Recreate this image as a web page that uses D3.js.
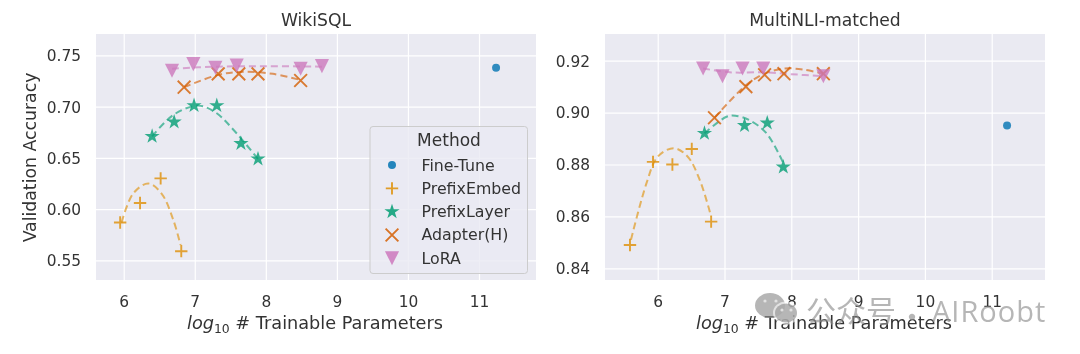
<!DOCTYPE html>
<html><head><meta charset="utf-8">
<script src="https://cdn.jsdelivr.net/npm/d3@7"></script>
<style>html,body{margin:0;padding:0;background:#fff}svg{display:block;filter:blur(.45px)}
text{font-family:"DejaVu Sans";fill:#333}</style></head><body><svg id="c" width="1080" height="354"></svg>
<script>
const methods=["Fine-Tune","PrefixEmbed","PrefixLayer","Adapter(H)","LoRA"];
const xTicks=[6,7,8,9,10,11];
const wikiTicks=[0.55,0.60,0.65,0.70,0.75];
const nliTicks=[0.84,0.86,0.88,0.90,0.92];

const wikiFine=[[11.24,0.738]];
const wikiEmbed=[[5.95,0.587],[6.23,0.606],[6.52,0.630],[6.81,0.559]];
const wikiLayer=[[6.40,0.671],[6.71,0.685],[6.99,0.701],[7.31,0.701],[7.65,0.664],[7.89,0.649]];
const wikiAdapter=[[6.85,0.719],[7.33,0.732],[7.62,0.732],[7.89,0.732],[8.49,0.7255]];
const wikiLora=[[6.68,0.735],[6.98,0.7415],[7.29,0.738],[7.59,0.740],[8.49,0.737],[8.79,0.7395]];
const wikiEmbedFit=[[5.97,0.587],[6.135,0.6154],[6.347,0.625],[6.535,0.615],[6.70,0.589],[6.80,0.565]];
const wikiLayerFit=[[6.40,0.671],[6.70,0.692],[7.05,0.701],[7.30,0.694],[7.55,0.677],[7.89,0.649]];
const wikiAdapterFit=[[6.85,0.719],[7.33,0.731],[7.70,0.734],[8.10,0.732],[8.49,0.726]];
const wikiLoraFit=[[6.68,0.737],[7.30,0.739],[8.00,0.7395],[8.79,0.739]];

const nliFine=[[11.23,0.895]];
const nliEmbed=[[5.585,0.849],[5.93,0.881],[6.22,0.880],[6.51,0.886],[6.80,0.858]];
const nliLayer=[[6.70,0.892],[7.30,0.895],[7.64,0.896],[7.88,0.879]];
const nliAdapter=[[6.85,0.898],[7.32,0.910],[7.60,0.9146],[7.89,0.915],[8.48,0.915]];
const nliLora=[[6.68,0.917],[6.97,0.914],[7.27,0.917],[7.58,0.917],[8.48,0.914]];
const nliEmbedFit=[[5.60,0.851],[5.835,0.873],[6.00,0.883],[6.24,0.8863],[6.45,0.883],[6.63,0.874],[6.80,0.860]];
const nliLayerFit=[[6.70,0.892],[7.03,0.8984],[7.16,0.8988],[7.38,0.897],[7.63,0.892],[7.88,0.8806]];
const nliAdapterFit=[[6.85,0.898],[7.32,0.9105],[7.60,0.915],[7.90,0.917],[8.20,0.9165],[8.48,0.915]];
const nliLoraFit=[[6.68,0.917],[7.10,0.9155],[7.60,0.9155],[8.00,0.9148],[8.48,0.914]];

const colors=["#0173b2","#de8f05","#029e73","#d55e00","#cc78bc"];
const triangleDown={draw(ctx,size){const r=Math.sqrt(size)/2;ctx.moveTo(-r,-r);ctx.lineTo(r,-r);ctx.lineTo(0,r);ctx.closePath();}};
const symbolFor=[
  {t:d3.symbolCircle,s:50,fill:1},
  {t:d3.symbolPlus,s:52,fill:0},
  {t:d3.symbolStar,s:72,fill:1},
  {t:d3.symbolTimes,s:108,fill:0},
  {t:triangleDown,s:200,fill:1}];

const svg=d3.select("#c");
function marker(g,i,x,y,op){
  const m=symbolFor[i];
  g.append("path").attr("d",d3.symbol().type(m.t).size(m.s)())
   .attr("transform",`translate(${x},${y})`)
   .attr("fill",m.fill?colors[i]:"none").attr("stroke",m.fill?"none":colors[i])
   .attr("stroke-width",1.9).attr("opacity",op);
}
function panel(cfg){
  const {box,xDom,xR,yDom,yR,yTicks,yFmt,title,points,fits,xlab}=cfg;
  const x=d3.scaleLinear().domain(xDom).range(xR);
  const y=d3.scaleLinear().domain(yDom).range(yR);
  const g=svg.append("g");
  g.append("rect").attr("x",box[0]).attr("y",box[1]).attr("width",box[2]-box[0]).attr("height",box[3]-box[1]).attr("fill","#eaeaf2");
  const ax=g.append("g").attr("transform",`translate(0,${box[3]})`)
    .call(d3.axisBottom(x).tickValues(xTicks).tickSize(box[1]-box[3]).tickPadding(0).tickFormat(d3.format("d")));
  const ay=g.append("g").attr("transform",`translate(${box[0]},0)`)
    .call(d3.axisLeft(y).tickValues(yTicks).tickSize(box[0]-box[2]).tickPadding(0).tickFormat(d3.format(yFmt)));
  for(const a of [ax,ay]){a.select(".domain").remove();a.selectAll("line").attr("stroke","#fff").attr("stroke-width",1.2);
    a.selectAll("text").attr("font-size",15.4).attr("font-family","DejaVu Sans").attr("fill","#333");}
  ax.selectAll("text").attr("y",0).attr("dy",0).attr("transform","translate(0,27)");
  ay.selectAll("text").attr("x",0).attr("dy","0.35em").attr("transform","translate(-15,0)").attr("text-anchor","end");
  const line=d3.line().x(d=>x(d[0])).y(d=>y(d[1])).curve(d3.curveCatmullRom.alpha(.5));
  fits.forEach((f,i)=>{
    g.append("path").attr("d",line(f)).attr("fill","none").attr("stroke",colors[i+1]).attr("stroke-width",2)
      .attr("stroke-dasharray","7 4").attr("opacity",.62);
  });
  points.forEach((p,i)=>p.forEach(d=>marker(g,i,x(d[0]),y(d[1]),.8)));
  g.append("text").attr("x",(box[0]+box[2])/2).attr("y",26).attr("text-anchor","middle").attr("font-size",17.2).text(title);
  const xl=g.append("text").attr("x",xlab).attr("y",329).attr("font-size",17.7);
  xl.append("tspan").attr("font-style","italic").text("log");
  xl.append("tspan").attr("font-size",12.4).attr("dy",4).text("10");
  xl.append("tspan").attr("dy",-4).text(" # Trainable Parameters");
  return g;
}
panel({box:[96,34,536,280],xDom:[6,11],xR:[123.7,479],yDom:[0.55,0.75],yR:[260.4,55.4],yTicks:wikiTicks,yFmt:".2f",title:"WikiSQL",xlab:187,
  points:[wikiFine,wikiEmbed,wikiLayer,wikiAdapter,wikiLora],fits:[wikiEmbedFit,wikiLayerFit,wikiAdapterFit,wikiLoraFit]});
panel({box:[605,34,1045,280],xDom:[6,11],xR:[657.7,991.7],yDom:[0.84,0.92],yR:[268.3,60.7],yTicks:nliTicks,yFmt:".2f",title:"MultiNLI-matched",xlab:696,
  points:[nliFine,nliEmbed,nliLayer,nliAdapter,nliLora],fits:[nliEmbedFit,nliLayerFit,nliAdapterFit,nliLoraFit]});

svg.append("text").attr("transform","translate(36,157.5) rotate(-90)").attr("text-anchor","middle").attr("font-size",17.3).text("Validation Accuracy");

// legend
const lg=svg.append("g");
lg.append("rect").attr("x",370).attr("y",126.5).attr("width",157.5).attr("height",147).attr("rx",3)
  .attr("fill","#eaeaf2").attr("fill-opacity",.8).attr("stroke","#ccc").attr("stroke-width",1);
lg.append("text").attr("x",449).attr("y",146).attr("text-anchor","middle").attr("font-size",17).text("Method");
const legendY=d3.scalePoint().domain(methods).range([165,258.3]);
methods.forEach((m,i)=>{
  marker(lg,i,392,legendY(m),.85);
  lg.append("text").attr("x",421.5).attr("y",legendY(m)+5.5).attr("font-size",15.8).text(m);
});

// watermark
const wm=svg.append("g");
const wmColor="#8f8f8f";
wm.append("ellipse").attr("cx",770).attr("cy",305.5).attr("rx",15).attr("ry",12.5).attr("fill",wmColor).attr("opacity",.65);
wm.append("ellipse").attr("cx",786).attr("cy",313).attr("rx",13).attr("ry",11.5).attr("fill","#fff").attr("opacity",.6);
wm.append("ellipse").attr("cx",786).attr("cy",313).attr("rx",11).attr("ry",9.5).attr("fill",wmColor).attr("opacity",.65);
[[765,301],[776,301],[782,310],[791,310]].forEach(d=>wm.append("circle").attr("cx",d[0]).attr("cy",d[1]).attr("r",1.6).attr("fill","#eee").attr("opacity",.8));
wm.append("text").attr("x",806).attr("y",322).attr("font-size",30).style("font-family","Noto Sans CJK SC").style("fill",wmColor).attr("opacity",.65).text("公众号");
wm.append("text").attr("x",897).attr("y",328).attr("font-size",30).style("font-family","Noto Sans CJK SC").style("fill",wmColor).attr("opacity",.65).text("·");
wm.append("text").attr("x",932).attr("y",322).attr("font-size",29).style("font-family","'Open Sans'").style("fill",wmColor).attr("opacity",.65).attr("letter-spacing",1).text("AIRoobt");
</script></body></html>
